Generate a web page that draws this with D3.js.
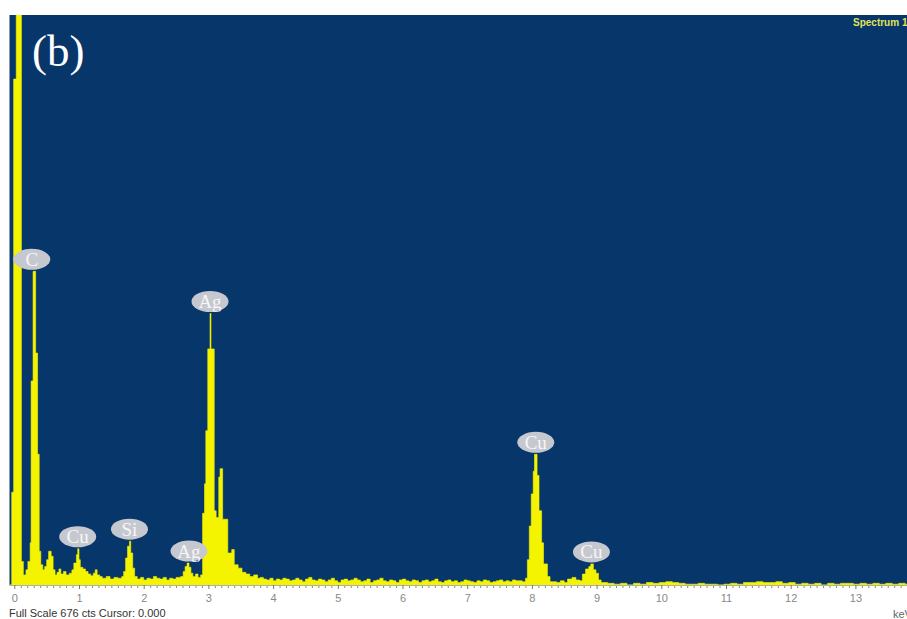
<!DOCTYPE html>
<html>
<head>
<meta charset="utf-8">
<script src="https://cdn.jsdelivr.net/npm/d3@7/dist/d3.min.js"></script>
<style>
  html, body { margin: 0; padding: 0; background: #ffffff; overflow: hidden; }
  svg { display: block; }
</style>
</head>
<body>
<svg id="chart" width="907" height="619"></svg>
<script>
// EDS spectrum, energy in keV vs counts (full scale 676 cts)

// Low-energy region and peaks: [keV, counts], each value holds until the next channel
const lowSpectrum = [
  [-0.08, 0], [-0.04, 110], [-0.01, 600], [0.03, 1400], [0.11, 28], [0.14, 12], [0.18, 18],
  [0.21, 28], [0.245, 50], [0.26, 242], [0.29, 372], [0.33, 275], [0.36, 155], [0.385, 40],
  [0.41, 24], [0.44, 18], [0.47, 22], [0.50, 30], [0.53, 40], [0.57, 34], [0.60, 18],
  [0.63, 12], [0.66, 15], [0.69, 19], [0.72, 13], [0.76, 16], [0.80, 12], [0.85, 14],
  [0.89, 18], [0.92, 26], [0.96, 36], [0.98, 43], [1.00, 30], [1.02, 21], [1.06, 19],
  [1.10, 16], [1.14, 13], [1.18, 11], [1.22, 14], [1.25, 18], [1.28, 12], [1.32, 10],
  [1.36, 8], [1.42, 10], [1.48, 7], [1.54, 9], [1.60, 8], [1.66, 10], [1.69, 16],
  [1.72, 32], [1.75, 46], [1.78, 52], [1.80, 38], [1.83, 20], [1.86, 10], [1.90, 7],
  [1.95, 9], [2.00, 6], [2.05, 8], [2.10, 7], [2.15, 10], [2.20, 8], [2.25, 7], [2.30, 9],
  [2.35, 6], [2.40, 8], [2.45, 7], [2.50, 9], [2.57, 10], [2.61, 16], [2.64, 22],
  [2.67, 26], [2.70, 21], [2.73, 14], [2.76, 10], [2.80, 13], [2.84, 9], [2.88, 12],
  [2.91, 85], [2.94, 120], [2.96, 183], [2.99, 280], [3.025, 322], [3.04, 280],
  [3.09, 88], [3.12, 80], [3.16, 128], [3.18, 138], [3.22, 78], [3.30, 38], [3.36, 42],
  [3.40, 24], [3.46, 20], [3.52, 15], [3.58, 13], [3.64, 10], [3.70, 12], [3.76, 8]
];

// Background between the Ag and Cu lines, 0.05 keV channels from 3.80 keV
const midBackgroundStart = 3.80;
const midBackgroundStep = 0.05;
const midBackground = [
  9, 7, 6, 8, 5, 7, 6, 8, 7, 5,
  6, 8, 6, 4, 7, 9, 6, 5, 7, 6,
  4, 6, 8, 5, 3, 6, 7, 5, 6, 8,
  6, 4, 5, 7, 3, 5, 6, 8, 5, 4,
  6, 5, 3, 6, 7, 5, 4, 6, 5, 3,
  5, 6, 4, 5, 7, 4, 3, 5, 6, 4,
  5, 3, 4, 6, 5, 4, 3, 5, 4, 6,
  5, 3, 4, 5, 6, 4, 5, 4, 6, 5
];

// Cu K lines: [keV, counts]
const cuSpectrum = [
  [7.85, 4], [7.90, 8], [7.93, 30], [7.96, 70], [7.99, 108], [8.02, 135], [8.04, 155],
  [8.08, 130], [8.11, 88], [8.15, 50], [8.18, 25], [8.24, 10], [8.28, 4], [8.32, 4],
  [8.38, 3], [8.44, 5], [8.50, 3], [8.55, 7], [8.62, 9], [8.68, 6], [8.74, 5],
  [8.78, 13], [8.83, 19], [8.88, 22], [8.91, 25], [8.95, 18], [8.99, 14], [9.03, 6]
];

// High-energy tail, 0.1 keV channels from 9.07 keV
const highBackgroundStart = 9.07;
const highBackgroundStep = 0.1;
const highBackground = [
  3, 2, 1, 2, 0, 2, 1, 3, 2, 3,
  4, 3, 2, 1, 1, 2, 1, 1, 0, 1,
  2, 1, 3, 3, 4, 3, 3, 4, 2, 3,
  1, 2, 1, 2, 0, 2, 1, 2, 2, 1,
  2, 1, 2, 1, 2, 1, 2, 1
];

// Peak identifications
const peakLabels = [
  { element: "C",  keV: 0.27 },
  { element: "Cu", keV: 0.98 },
  { element: "Si", keV: 1.78 },
  { element: "Ag", keV: 2.70 },
  { element: "Ag", keV: 3.025 },
  { element: "Cu", keV: 8.06 },
  { element: "Cu", keV: 8.92 }
];

const majorTicks = [0, 1, 2, 3, 4, 5, 6, 7, 8, 9, 10, 11, 12, 13];
const fullScale = 676;
const cursorKeV = 0.000;

// ---- assemble spectrum channels
const spectrum = [
  ...lowSpectrum,
  ...midBackground.map((c, i) => [midBackgroundStart + i * midBackgroundStep, c]),
  ...cuSpectrum,
  ...highBackground.map((c, i) => [highBackgroundStart + i * highBackgroundStep, c])
].map(([k, c]) => ({ keV: k, cts: c }));

// ---- layout
const W = 907, H = 619;
const plot = { left: 9.5, top: 15, right: 907, bottom: 585 };

const svg = d3.select("#chart");

const x = d3.scaleLinear().domain([0, 13]).range([14.3, 855.4]);
const y = d3.scaleLinear().domain([0, fullScale]).range([plot.bottom, plot.top]);

svg.append("defs").append("clipPath").attr("id", "plotClip")
  .append("rect")
  .attr("x", plot.left).attr("y", plot.top)
  .attr("width", plot.right - plot.left).attr("height", plot.bottom - plot.top);

// background
svg.append("rect")
  .attr("x", plot.left).attr("y", plot.top)
  .attr("width", plot.right - plot.left).attr("height", plot.bottom - plot.top)
  .attr("fill", "#07366a");

// spectrum fill
const area = d3.area()
  .x(d => x(d.keV))
  .y0(y(0))
  .y1(d => y(d.cts))
  .curve(d3.curveStepAfter);

const endKeV = x.invert(plot.right) + 0.1;
const spectrumData = spectrum.concat([{ keV: endKeV, cts: 0 }]);

svg.append("g").attr("clip-path", "url(#plotClip)")
  .append("path")
  .datum(spectrumData)
  .attr("d", area)
  .attr("fill", "#f4f400")
  .attr("stroke", "#f4f400")
  .attr("stroke-width", 0.6);

// axis: minor ticks every 0.1 keV, labelled major ticks every keV
const minorTicks = d3.range(0, 139).map(i => i / 10).filter(v => Math.round(v * 10) % 10 !== 0);

svg.append("g")
  .attr("transform", `translate(0,${plot.bottom})`)
  .call(d3.axisBottom(x).tickValues(minorTicks).tickSize(3).tickFormat(""))
  .call(g => g.select(".domain").remove())
  .call(g => g.selectAll(".tick line").attr("stroke", "#8a8a8a"));

const majorAxis = svg.append("g")
  .attr("transform", `translate(0,${plot.bottom})`)
  .call(d3.axisBottom(x).tickValues(majorTicks).tickSize(4).tickPadding(5).tickFormat(d3.format("d")));
majorAxis.select(".domain").attr("stroke", "#b0b0b0").attr("d", `M${plot.left},0.5H${plot.right}`);
majorAxis.selectAll(".tick line").attr("stroke", "#777");
majorAxis.selectAll(".tick text")
  .attr("fill", "#888")
  .style("font-family", "'Liberation Sans', Arial, sans-serif")
  .style("font-size", "11px");

// peak labels (ellipse markers above the peak maxima)
function peakCounts(k) {
  const near = spectrum.filter(d => Math.abs(d.keV - k) <= 0.08);
  return d3.max(near, d => d.cts);
}

const lbl = svg.append("g");
peakLabels.forEach(p => {
  const cx = x(p.keV);
  const cy = y(peakCounts(p.keV)) - 12;
  lbl.append("ellipse")
    .attr("cx", cx).attr("cy", cy)
    .attr("rx", 18.5).attr("ry", 10.5)
    .attr("fill", "#c6c8d0");
  lbl.append("text")
    .attr("x", cx).attr("y", cy + 6.5)
    .attr("text-anchor", "middle")
    .attr("fill", "#f6f6f6")
    .style("font-family", "'Liberation Serif', 'Times New Roman', serif")
    .style("font-size", "19px")
    .text(p.element);
});

// panel tag
svg.append("text")
  .attr("x", 32).attr("y", 66)
  .attr("fill", "#ffffff")
  .style("font-family", "'Liberation Serif', 'Times New Roman', serif")
  .style("font-size", "45px")
  .text("(b)");

// spectrum name
svg.append("text")
  .attr("x", 853).attr("y", 26)
  .attr("fill", "#e2e35a")
  .style("font-family", "'Liberation Sans', Arial, sans-serif")
  .style("font-size", "10px")
  .style("font-weight", "bold")
  .text("Spectrum 1");

// status line
svg.append("text")
  .attr("x", 9).attr("y", 617)
  .attr("fill", "#333")
  .style("font-family", "'Liberation Sans', Arial, sans-serif")
  .style("font-size", "11px")
  .text(`Full Scale ${fullScale} cts Cursor: ${cursorKeV.toFixed(3)}`);

svg.append("text")
  .attr("x", 893).attr("y", 618)
  .attr("fill", "#666")
  .style("font-family", "'Liberation Sans', Arial, sans-serif")
  .style("font-size", "11px")
  .text("keV");
</script>
</body>
</html>
